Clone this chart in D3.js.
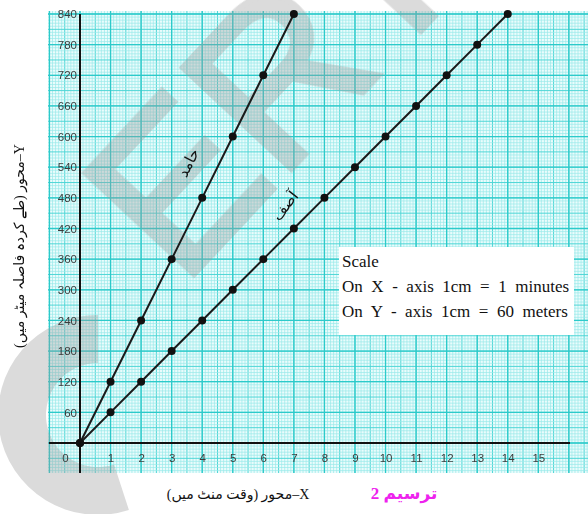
<!DOCTYPE html>
<html>
<head>
<meta charset="utf-8">
<script src="https://cdn.jsdelivr.net/npm/d3@7"></script>
<style>
  body { margin: 0; background: #fff; }
  svg { display: block; }
</style>
</head>
<body>
<svg width="588" height="514"></svg>
<script>
// data
var xTicks = [0, 1, 2, 3, 4, 5, 6, 7, 8, 9, 10, 11, 12, 13, 14, 15]
var yTicks = [60, 120, 180, 240, 300, 360, 420, 480, 540, 600, 660, 720, 780, 840]
var hamidTime = [0, 1, 2, 3, 4, 5, 6, 7]
var hamidDistance = [0, 120, 240, 360, 480, 600, 720, 840]
var asifTime = [0, 1, 2, 3, 4, 5, 6, 7, 8, 9, 10, 11, 12, 13, 14]
var asifDistance = [0, 60, 120, 180, 240, 300, 360, 420, 480, 540, 600, 660, 720, 780, 840]
var scaleLines = ['Scale', 'On X - axis 1cm = 1 minutes', 'On Y - axis 1cm = 60 meters']

var svg = d3.select('svg')

var x = d3.scaleLinear().domain([0, 15]).range([80, 538.3])
var y = d3.scaleLinear().domain([0, 840]).range([443, 14])

// graph paper
var gx0 = x.invert(48), gx1 = x.invert(588)
var gy0 = y.invert(473), gy1 = y.invert(11)
var paper = svg.append('g')
paper.append('rect')
    .attr('x', 48).attr('y', 11)
    .attr('width', 540).attr('height', 462)
    .attr('fill', '#eafcfc')

var minorX = d3.range(Math.ceil(gx0 * 10), gx1 * 10).map(d => d / 10)
var minorY = d3.range(Math.ceil(gy0 / 6), gy1 / 6).map(d => d * 6)
paper.selectAll('line.mx').data(minorX).enter().append('line')
    .attr('x1', d => x(d)).attr('x2', d => x(d))
    .attr('y1', 11).attr('y2', 473)
    .attr('stroke', d => Math.round(d * 10) % 5 == 0 ? '#4fd6d6' : '#9aeaea')
    .attr('stroke-width', d => Math.round(d * 10) % 5 == 0 ? 1 : 0.7)
paper.selectAll('line.my').data(minorY).enter().append('line')
    .attr('y1', d => y(d)).attr('y2', d => y(d))
    .attr('x1', 48).attr('x2', 588)
    .attr('stroke', d => Math.round(d / 6) % 5 == 0 ? '#4fd6d6' : '#9aeaea')
    .attr('stroke-width', d => Math.round(d / 6) % 5 == 0 ? 1 : 0.7)
paper.selectAll('line.MX').data(d3.range(Math.ceil(gx0), gx1)).enter().append('line')
    .attr('x1', d => x(d)).attr('x2', d => x(d))
    .attr('y1', 11).attr('y2', 473)
    .attr('stroke', '#2ccaca').attr('stroke-width', 1.3)
paper.selectAll('line.MY').data(d3.range(Math.ceil(gy0 / 60), gy1 / 60)).enter().append('line')
    .attr('y1', d => y(d * 60)).attr('y2', d => y(d * 60))
    .attr('x1', 48).attr('x2', 588)
    .attr('stroke', '#2ccaca').attr('stroke-width', 1.3)

// watermark
var mark = svg.append('g').attr('opacity', 0.36)
mark.append('path')
    .attr('transform', 'translate(98,415)')
    .attr('d', d3.arc()({innerRadius: 52, outerRadius: 100, startAngle: -Math.PI * 1.1, endAngle: 0}))
    .attr('fill', '#9a9a9a')
mark.append('text')
    .attr('transform', 'translate(182,287) rotate(-47)')
    .attr('font-family', 'Liberation Sans, Arial, sans-serif')
    .attr('font-size', 215)
    .attr('fill', '#9a9a9a')
    .attr('stroke', '#9a9a9a')
    .attr('stroke-width', 6)
    .text('ERT')

// axes lines
svg.append('line')
    .attr('x1', 49).attr('x2', 570)
    .attr('y1', y(0)).attr('y2', y(0))
    .attr('stroke', '#111').attr('stroke-width', 2)
svg.append('line')
    .attr('x1', x(0)).attr('x2', x(0))
    .attr('y1', y(840)).attr('y2', 473)
    .attr('stroke', '#111').attr('stroke-width', 2)

// tick labels
var xAxis = svg.append('g')
    .attr('transform', `translate(0,${y(0)})`)
    .call(d3.axisBottom(x).tickValues(xTicks).tickSize(0).tickPadding(11))
xAxis.select('.domain').remove()
xAxis.selectAll('text')
    .attr('font-family', 'Liberation Sans, Arial, sans-serif')
    .attr('font-size', 11.5)
    .attr('fill', '#3c3c3c')
    .attr('dx', d => d == 0 ? -15 : 0)

var yAxis = svg.append('g')
    .attr('transform', `translate(${x(0)},0)`)
    .call(d3.axisLeft(y).tickValues(yTicks).tickSize(0).tickPadding(3))
yAxis.select('.domain').remove()
yAxis.selectAll('text')
    .attr('font-family', 'Liberation Sans, Arial, sans-serif')
    .attr('font-size', 11.5)
    .attr('fill', '#3c3c3c')

// lines
var line = d3.line().x(d => x(d[0])).y(d => y(d[1]))
var series = [
    hamidTime.map((t, i) => [t, hamidDistance[i]]),
    asifTime.map((t, i) => [t, asifDistance[i]])
]
series.forEach(function(s) {
    svg.append('path')
        .attr('d', line(s))
        .attr('fill', 'none')
        .attr('stroke', '#1a1a1a')
        .attr('stroke-width', 2)
    svg.append('g').selectAll('circle').data(s)
        .enter().append('circle')
        .attr('cx', d => x(d[0]))
        .attr('cy', d => y(d[1]))
        .attr('r', 4)
        .attr('fill', '#111')
})

// line names
svg.append('text')
    .attr('transform', 'translate(193,165) rotate(-63)')
    .attr('text-anchor', 'middle')
    .attr('font-family', 'DejaVu Sans, serif')
    .attr('font-size', 15)
    .attr('direction', 'rtl')
    .attr('fill', '#111')
    .text('حامد')
svg.append('text')
    .attr('transform', 'translate(289,209) rotate(-52)')
    .attr('text-anchor', 'middle')
    .attr('font-family', 'DejaVu Sans, serif')
    .attr('font-size', 15)
    .attr('direction', 'rtl')
    .attr('fill', '#111')
    .text('آصف')

// scale box
svg.append('rect')
    .attr('x', 339).attr('y', 247)
    .attr('width', 235).attr('height', 88)
    .attr('fill', '#fff')
svg.append('g').selectAll('text').data(scaleLines)
    .enter().append('text')
    .attr('x', 342)
    .attr('y', (d, i) => 267 + i * 25)
    .attr('font-family', 'Liberation Serif, Times New Roman, serif')
    .attr('font-size', 17)
    .attr('word-spacing', 4.3)
    .attr('fill', '#111')
    .text(d => d)

// axis titles
svg.append('text')
    .attr('transform', 'translate(24,246) rotate(-90)')
    .attr('text-anchor', 'middle')
    .attr('direction', 'rtl')
    .attr('font-family', 'Liberation Serif, DejaVu Sans, serif')
    .attr('font-size', 14)
    .attr('fill', '#111')
    .text('Y–محور (طے کردہ فاصلہ میٹر میں)')
svg.append('text')
    .attr('x', 238).attr('y', 499)
    .attr('text-anchor', 'middle')
    .attr('direction', 'rtl')
    .attr('font-family', 'Liberation Serif, DejaVu Sans, serif')
    .attr('font-size', 14)
    .attr('fill', '#111')
    .text('X–محور (وقت منٹ میں)')
svg.append('text')
    .attr('x', 404).attr('y', 499)
    .attr('text-anchor', 'middle')
    .attr('direction', 'rtl')
    .attr('font-family', 'Liberation Serif, DejaVu Sans, serif')
    .attr('font-size', 17)
    .attr('font-weight', 'bold')
    .attr('fill', '#ee22ee')
    .text('ترسیم 2')
</script>
</body>
</html>
